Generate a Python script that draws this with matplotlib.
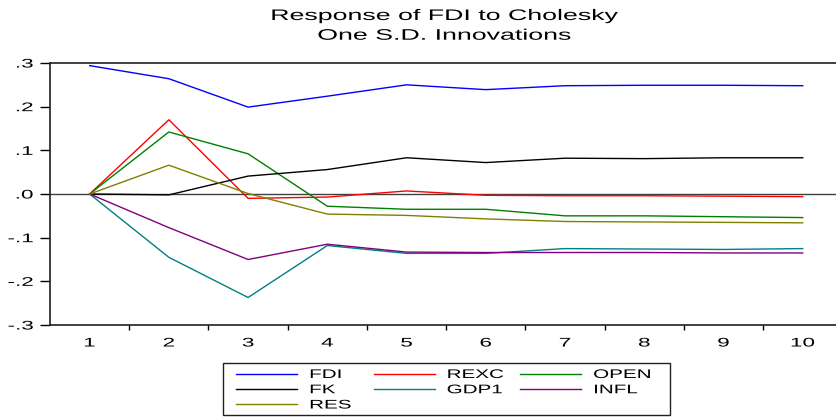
import matplotlib
matplotlib.use("Agg")
import matplotlib.pyplot as plt
import matplotlib.patheffects as pe
from matplotlib.transforms import Affine2D
from matplotlib.patches import Rectangle
import numpy as np

plt.rcParams['font.family'] = ['Liberation Sans', 'DejaVu Sans']

# impulse response of FDI, periods 1..10
periods = list(range(1, 11))
fdi = [0.294, 0.264, 0.199, 0.224, 0.250, 0.239, 0.248, 0.249, 0.249, 0.248]
rexc = [0.0, 0.170, -0.010, -0.007, 0.007, -0.003, -0.004, -0.004, -0.005, -0.006]
open_ = [0.0, 0.142, 0.092, -0.028, -0.035, -0.035, -0.050, -0.050, -0.052, -0.054]
fk = [0.0, -0.002, 0.041, 0.056, 0.083, 0.072, 0.082, 0.081, 0.083, 0.083]
gdp1 = [0.0, -0.145, -0.237, -0.118, -0.136, -0.136, -0.125, -0.126, -0.127, -0.125]
infl = [0.0, -0.077, -0.150, -0.115, -0.133, -0.134, -0.134, -0.134, -0.135, -0.135]
res = [0.0, 0.066, 0.001, -0.046, -0.049, -0.057, -0.063, -0.064, -0.065, -0.066]

y_ticks = [0.3, 0.2, 0.1, 0.0, -0.1, -0.2, -0.3]
y_labels = [".3", ".2", ".1", ".0", "-.1", "-.2", "-.3"]


class Stretch(pe.AbstractPathEffect):
    # widen glyphs horizontally, the eviews export has very wide lettering
    def __init__(self, sx, anchor="center"):
        super().__init__()
        self.sx = sx
        self.anchor = anchor

    def draw_path(self, renderer, gc, tpath, affine, rgbFace=None):
        ext = tpath.get_extents()
        if self.anchor == "left":
            cx = 0.0
        elif self.anchor == "right":
            cx = ext.x1
        else:
            cx = (ext.x0 + ext.x1) / 2
        t = Affine2D().translate(-cx, 0).scale(self.sx, 1).translate(cx, 0) + affine
        renderer.draw_path(gc, tpath, t, rgbFace)


W, H = 836, 417
fig = plt.figure(figsize=(W / 100, H / 100), dpi=100)
ax = fig.add_axes([50 / W, 1 - 325 / H, 786 / W, 262 / H])

ax.axhline(0, color="#404040", lw=1.0, zorder=1)

# legend order matches column-wise fill of the EViews legend
series = [
    ("FDI", fdi, "#0000ff"),
    ("FK", fk, "#000000"),
    ("RES", res, "#808000"),
    ("REXC", rexc, "#ff0000"),
    ("GDP1", gdp1, "#008080"),
    ("OPEN", open_, "#008000"),
    ("INFL", infl, "#800080"),
]
draw_order = ["FDI", "REXC", "OPEN", "FK", "GDP1", "INFL", "RES"]
handles = {}
for name in draw_order:
    vals, col = [(v, c) for n, v, c in series if n == name][0]
    handles[name], = ax.plot(periods, vals, color=col, lw=1.0, label=name, zorder=2)

ax.set_xlim(0.5, 10.42)
ax.set_ylim(-0.3, 0.3)
ax.set_yticks(y_ticks)
ax.set_yticklabels(y_labels, fontsize=9)
ax.set_xticks(periods)
ax.set_xticklabels([str(p) for p in periods], fontsize=9)
ax.set_xticks(np.arange(1.5, 10.5, 1.0), minor=True)
ax.tick_params(axis="x", which="major", length=0, pad=9)
ax.tick_params(axis="x", which="minor", length=3.6, direction="out", width=1)
ax.tick_params(axis="y", length=7.2, direction="out", width=1, pad=5)
ax.spines["right"].set_visible(False)
for s in ax.spines.values():
    s.set_linewidth(1.2)
    s.set_color("#202020")
for lab in ax.get_xticklabels():
    lab.set_path_effects([Stretch(1.8, "center")])
for lab in ax.get_yticklabels():
    lab.set_path_effects([Stretch(1.8, "right")])

title = fig.text(444 / W, 1 - 9 / H, "Response of FDI to Cholesky\nOne S.D. Innovations",
                 ha="center", va="top", fontsize=11, linespacing=1.52)
title.set_path_effects([Stretch(1.75, "center")])

leg = fig.legend([handles[n] for n, _, _ in series], [n for n, _, _ in series],
                 ncol=3, loc="upper left", bbox_to_anchor=(236 / W, 1 - 369 / H),
                 fontsize=9, frameon=False, handlelength=4.9,
                 handletextpad=0.95, columnspacing=3.1, labelspacing=0.26,
                 borderpad=0, borderaxespad=0)
for t in leg.get_texts():
    t.set_path_effects([Stretch(1.65, "left")])

fig.patches.append(Rectangle((223 / W, 1 - 415 / H), 447 / W, 52 / H,
                             transform=fig.transFigure, fill=False,
                             edgecolor="#202020", lw=1.0))

fig.savefig("out.png", dpi=100)
